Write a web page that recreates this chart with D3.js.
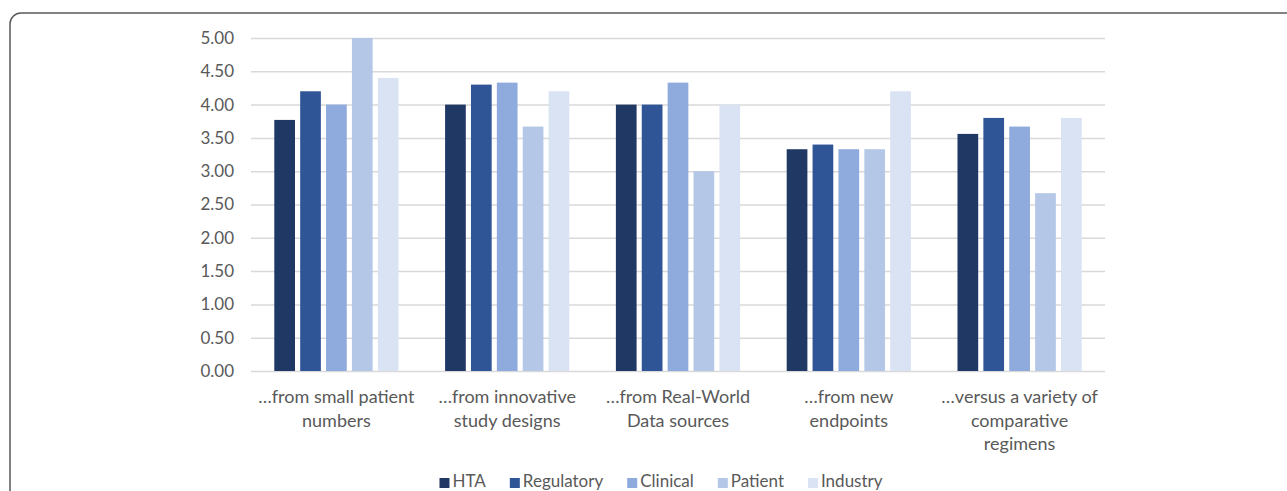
<!DOCTYPE html>
<html><head><meta charset="utf-8">
<script src="https://cdn.jsdelivr.net/npm/d3@7"></script>
<style>html,body{margin:0;padding:0;background:#fff;overflow:hidden}</style>
</head><body>
<svg id="c" width="1287" height="491"></svg>
<script>
const categories = [
  ["…from small patient","numbers"],
  ["…from innovative","study designs"],
  ["…from Real-World","Data sources"],
  ["…from new","endpoints"],
  ["…versus a variety of","comparative","regimens"]
];
const seriesNames = ["HTA","Regulatory","Clinical","Patient","Industry"];
const HTA        = [3.77, 4.00, 4.00, 3.33, 3.56];
const Regulatory = [4.20, 4.30, 4.00, 3.40, 3.80];
const Clinical   = [4.00, 4.33, 4.33, 3.33, 3.67];
const Patient    = [5.00, 3.67, 3.00, 3.33, 2.67];
const Industry   = [4.40, 4.20, 4.00, 4.20, 3.80];
const seriesValues = [HTA, Regulatory, Clinical, Patient, Industry];
const yTicks = [0,0.5,1,1.5,2,2.5,3,3.5,4,4.5,5];
const colors = ["#203864","#2F5597","#8FAADC","#B4C7E7","#DAE3F3"];

const svg = d3.select("#c");
const font = "Lato, 'Open Sans', sans-serif";
// frame
svg.append("rect").attr("x",10).attr("y",13).attr("width",1300).attr("height",520)
  .attr("rx",11).attr("fill","none").attr("stroke","#5a5a5a").attr("stroke-width",1.5);

const pL = 251, pR = 1105, pT = 38, pB = 371;
const x0 = d3.scaleBand().domain(d3.range(categories.length)).range([pL,pR]).paddingInner(0).paddingOuter(0);
const x1 = d3.scaleBand().domain(d3.range(seriesNames.length)).range([0,x0.bandwidth()]).paddingInner(0.2).paddingOuter(0.9);
const y = d3.scaleLinear().domain([0,5]).range([pB,pT]);

const yAxis = d3.axisLeft(y).tickValues(yTicks).tickFormat(d3.format(".2f")).tickSize(-(pR-pL)).tickPadding(17);
const gy = svg.append("g").attr("transform",`translate(${pL},0)`).call(yAxis);
gy.select(".domain").remove();
gy.selectAll(".tick line").attr("stroke","#d9d9d9").attr("stroke-width",1.5);
gy.selectAll(".tick text").attr("fill","#595959").style("font-family",font).style("font-size","17px");

const g = svg.append("g");
seriesValues.forEach((vals,si)=>{
  g.selectAll(null).data(vals).enter().append("rect")
    .attr("x",(d,i)=>x0(i)+x1(si)).attr("width",x1.bandwidth())
    .attr("y",d=>y(d)).attr("height",d=>y(0)-y(d)).attr("fill",colors[si]);
});

// x labels
categories.forEach((lines,i)=>{
  const t = svg.append("text").attr("text-anchor","middle").attr("fill","#595959")
    .style("font-family",font).style("font-size","18px");
  lines.forEach((l,k)=>{
    t.append("tspan").attr("x",x0(i)+x0.bandwidth()/2).attr("y",403+k*23.5).text(l);
  });
});

// legend
const lg = svg.append("g");
let lx = 0;
seriesNames.forEach((n,i)=>{
  const it = lg.append("g");
  it.append("rect").attr("x",0).attr("y",-9).attr("width",10).attr("height",10).attr("fill",colors[i]);
  const tx = it.append("text").attr("x",13).attr("y",0).attr("fill","#595959")
    .style("font-family",font).style("font-size","17px").text(n);
  const w = 13 + tx.node().getComputedTextLength();
  it.attr("transform",`translate(${lx},0)`);
  lx += w + 24;
});
lx -= 24;
lg.attr("transform",`translate(${(439+883)/2 - lx/2},487)`);
</script>
</body></html>
